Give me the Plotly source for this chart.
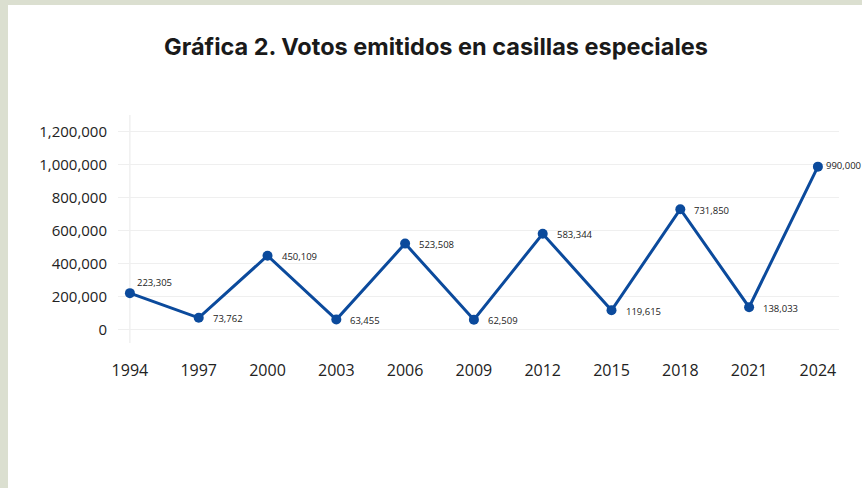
import plotly.graph_objects as go

years = [1994, 1997, 2000, 2003, 2006, 2009, 2012, 2015, 2018, 2021, 2024]
votos = [223305, 73762, 450109, 63455, 523508, 62509, 583344, 119615, 731850, 138033, 990000]
labels = ["223,305", "73,762", "450,109", "63,455", "523,508", "62,509",
          "583,344", "119,615", "731,850", "138,033", "990,000"]
yticks = [0, 200000, 400000, 600000, 800000, 1000000, 1200000]
ytick_text = ["0", "200,000", "400,000", "600,000", "800,000", "1,000,000", "1,200,000"]

W, H = 862, 488
ML, MR, MT, MB = 118, 23, 115, 145
pw = W - ML - MR
ph = H - MT - MB

blue = "#0b4a9c"

fig = go.Figure()
fig.add_trace(go.Scatter(
    x=years, y=votos, mode="lines+markers",
    line=dict(color=blue, width=3),
    marker=dict(color=blue, size=10),
    hoverinfo="skip", showlegend=False,
))

n = len(years)
for i, (xv, yv, lab) in enumerate(zip(years, votos, labels)):
    if i == 0:
        xs, ys = 5, 11
    elif i == n - 1:
        xs, ys = 6, 1
    else:
        xs, ys = 12, -1
    fig.add_annotation(
        x=xv, y=yv, text=lab, showarrow=False,
        xanchor="left", yanchor="middle",
        xshift=xs, yshift=ys,
        font=dict(family="Open Sans", size=9.5, color="#222222"),
    )

fig.add_vline(x=years[0], line=dict(color="#e8e8e8", width=1), layer="below")

# light border on left/top of the page
def px_x(p):
    return (p - ML) / pw

def px_y(p):
    return (H - MB - p) / ph

fig.add_shape(type="rect", xref="paper", yref="paper",
              x0=px_x(-5), x1=px_x(8), y0=px_y(H + 5), y1=px_y(-5),
              fillcolor="#dbdfd0", line=dict(width=0), layer="below")
fig.add_shape(type="rect", xref="paper", yref="paper",
              x0=px_x(-5), x1=px_x(W + 5), y0=px_y(5), y1=px_y(-5),
              fillcolor="#dbdfd0", line=dict(width=0), layer="below")

fig.update_layout(
    width=W, height=H,
    margin=dict(l=ML, r=MR, t=MT, b=MB),
    paper_bgcolor="white", plot_bgcolor="white",
    title=dict(text="<b>Gráfica 2. Votos emitidos en casillas especiales</b>",
               x=436 / W, xref="container", xanchor="center",
               y=1 - 47 / H, yref="container", yanchor="middle",
               font=dict(family="Inter", size=23.5, color="#1a1a1a")),
    xaxis=dict(range=[1993.48, 2024.92], tickvals=years,
               ticktext=[str(y) for y in years],
               showgrid=False, zeroline=False, showline=False,
               tickfont=dict(family="Open Sans", size=16, color="#222222"),
               ticks="", ticklabelstandoff=16),
    yaxis=dict(range=[-79000, 1303000], tickvals=yticks, ticktext=ytick_text,
               showgrid=True, gridcolor="#efefef", gridwidth=1,
               zeroline=False, showline=False,
               tickfont=dict(family="Open Sans", size=15, color="#222222"),
               ticks="", ticklabelstandoff=10),
)

fig.write_html("out.html")
